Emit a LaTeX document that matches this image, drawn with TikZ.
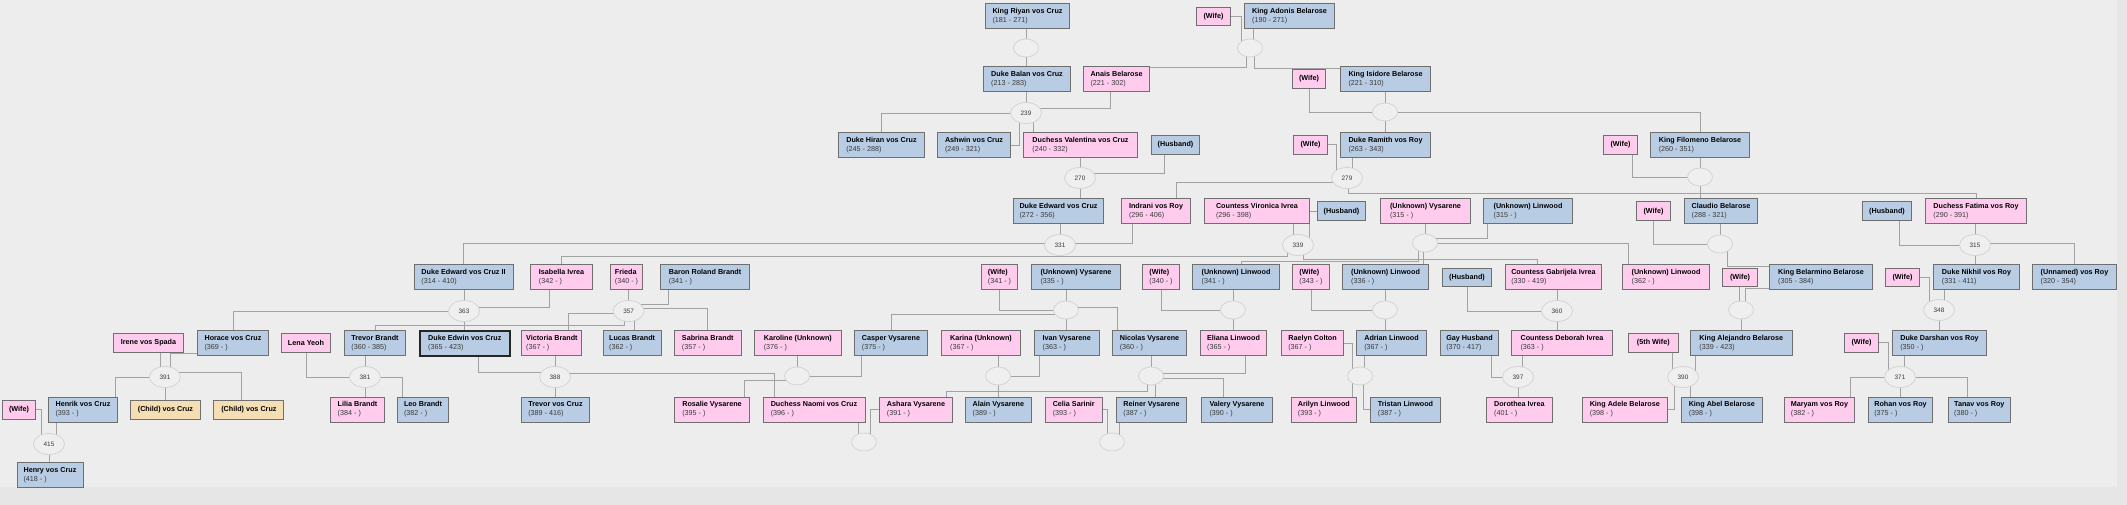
\documentclass[tikz,border=0pt]{standalone}
\usepackage{fontspec}
\setmainfont{Liberation Sans}
\usetikzlibrary{shapes.geometric,calc}
\definecolor{maleblue}{HTML}{B8CCE4}
\definecolor{femalepink}{HTML}{FFCCEE}
\definecolor{childtan}{HTML}{F5DEB3}
\definecolor{boxedge}{HTML}{6F6F6F}
\definecolor{linkgray}{HTML}{A2A2A2}
\definecolor{ringgray}{HTML}{D4D4D4}
\definecolor{ringfill}{HTML}{EFEFEF}
\definecolor{canvasbg}{HTML}{EDEDED}
\definecolor{outerbg}{HTML}{E6E6E6}
\definecolor{dategray}{HTML}{3A3A3A}
\pgfdeclarelayer{background}
\pgfsetlayers{background,main}
\newcommand{\who}[2]{\textbf{#1}\\{\color{dategray}#2}}

\begin{document}
\begin{tikzpicture}[x=1pt, y=-1pt,
    person/.style={draw=boxedge, line width=1pt, anchor=north west, align=left,
      inner xsep=3.5pt, inner ysep=1pt, minimum height=25pt,
      font=\fontsize{7.2}{9}\selectfont},
    male/.style={person, fill=maleblue},
    female/.style={person, fill=femalepink},
    unknown/.style={person, fill=childtan},
    oneline/.style={minimum height=18.6pt},
    focus/.style={draw=black!85, line width=2.2pt},
    union/.style={ellipse, draw=ringgray, fill=ringfill, line width=0.8pt, inner sep=0pt,
      minimum width=25pt, minimum height=18pt, font=\fontsize{6.4}{7}\selectfont, text=dategray},
    dated/.style={union, minimum width=31pt, minimum height=21pt},
    link/.style={draw=linkgray, line width=0.9pt}]
  \useasboundingbox (0,0) rectangle (2127,505);

  % Generation 1
  \node[male, minimum width=84] (riyan) at (985,3) {\who{King Riyan vos Cruz}{(181 - 271)}};
  \node[female, oneline, minimum width=34] (adonisW) at (1196,6.7) {\textbf{(Wife)}};
  \node[male, minimum width=90] (adonis) at (1244,3) {\who{King Adonis Belarose}{(190 - 271)}};
  \node[union] (cR) at (1026,48) {};
  \node[union] (cA) at (1250,48) {};

  % Generation 2
  \node[male, minimum width=87] (balan) at (983,66) {\who{Duke Balan vos Cruz}{(213 - 283)}};
  \node[female, minimum width=66] (anais) at (1083,66) {\who{Anais Belarose}{(221 - 302)}};
  \node[female, oneline, minimum width=33] (isidoreW) at (1292,69) {\textbf{(Wife)}};
  \node[male, minimum width=90] (isidore) at (1340,66) {\who{King Isidore Belarose}{(221 - 310)}};
  \node[dated] (c239) at (1026,113) {239};
  \node[union] (cI) at (1385,112) {};

  % Generation 3
  \node[male, minimum width=86] (hiran) at (838,132) {\who{Duke Hiran vos Cruz}{(245 - 288)}};
  \node[male, minimum width=73] (ashwin) at (937,132) {\who{Ashwin vos Cruz}{(249 - 321)}};
  \node[female, minimum width=114] (valentina) at (1023,132) {\who{Duchess Valentina vos Cruz}{(240 - 332)}};
  \node[male, oneline, minimum width=48] (husband1) at (1151,135) {\textbf{(Husband)}};
  \node[female, oneline, minimum width=34] (ramithW) at (1293,135) {\textbf{(Wife)}};
  \node[male, minimum width=90] (ramith) at (1340,132) {\who{Duke Ramith vos Roy}{(263 - 343)}};
  \node[female, oneline, minimum width=34] (filomenoW) at (1603,135) {\textbf{(Wife)}};
  \node[male, minimum width=99] (filomeno) at (1650,132) {\who{King Filomeno Belarose}{(260 - 351)}};
  \node[dated] (c270) at (1080,178) {270};
  \node[dated] (c279) at (1347,178) {279};
  \node[union] (cF) at (1700,177) {};

  % Generation 4
  \node[male, minimum width=90] (edward) at (1013,198) {\who{Duke Edward vos Cruz}{(272 - 356)}};
  \node[female, minimum width=69] (indrani) at (1121,198) {\who{Indrani vos Roy}{(296 - 406)}};
  \node[female, minimum width=105] (vironica) at (1204,198) {\who{Countess Vironica Ivrea}{(296 - 398)}};
  \node[male, oneline, minimum width=48] (husband2) at (1317,201.5) {\textbf{(Husband)}};
  \node[female, minimum width=90] (vysarene1) at (1380,198) {\who{(Unknown) Vysarene}{(315 - )}};
  \node[male, minimum width=89] (linwood1) at (1483,198) {\who{(Unknown) Linwood}{(315 - )}};
  \node[female, oneline, minimum width=34] (claudioW) at (1636,201.5) {\textbf{(Wife)}};
  \node[male, minimum width=73] (claudio) at (1684,198) {\who{Claudio Belarose}{(288 - 321)}};
  \node[male, oneline, minimum width=49] (husband3) at (1862,201.5) {\textbf{(Husband)}};
  \node[female, minimum width=101] (fatima) at (1925,198) {\who{Duchess Fatima vos Roy}{(290 - 391)}};
  \node[dated] (c331) at (1060,245) {331};
  \node[dated] (c339) at (1298,245) {339};
  \node[union] (cUV) at (1425,243) {};
  \node[union] (cC) at (1720,244) {};
  \node[dated] (c315) at (1975,245) {315};

  % Generation 5
  \node[male, minimum width=99] (edward2) at (413.5,264) {\who{Duke Edward vos Cruz II}{(314 - 410)}};
  \node[female, minimum width=62] (isabella) at (530,264) {\who{Isabella Ivrea}{(342 - )}};
  \node[female, minimum width=32] (frieda) at (610,264) {\who{Frieda}{(340 - )}};
  \node[male, minimum width=89] (roland) at (660,264) {\who{Baron Roland Brandt}{(341 - )}};
  \node[female, minimum width=36] (vysW) at (981,264) {\who{(Wife)}{(341 - )}};
  \node[male, minimum width=89] (vysarene2) at (1031,264) {\who{(Unknown) Vysarene}{(335 - )}};
  \node[female, minimum width=37] (linW1) at (1142,264) {\who{(Wife)}{(340 - )}};
  \node[male, minimum width=87] (linwood2) at (1192,264) {\who{(Unknown) Linwood}{(341 - )}};
  \node[female, minimum width=37] (linW2) at (1292,264) {\who{(Wife)}{(343 - )}};
  \node[male, minimum width=86] (linwood3) at (1342,264) {\who{(Unknown) Linwood}{(336 - )}};
  \node[male, oneline, minimum width=49] (husband4) at (1442,267.5) {\textbf{(Husband)}};
  \node[female, minimum width=96] (gabrijela) at (1505,264) {\who{Countess Gabrijela Ivrea}{(330 - 419)}};
  \node[female, minimum width=87] (linwood4) at (1622,264) {\who{(Unknown) Linwood}{(362 - )}};
  \node[female, oneline, minimum width=35] (belW) at (1722,267.5) {\textbf{(Wife)}};
  \node[male, minimum width=103] (belarmino) at (1769,264) {\who{King Belarmino Belarose}{(305 - 384)}};
  \node[female, oneline, minimum width=34] (nikW) at (1885,267.5) {\textbf{(Wife)}};
  \node[male, minimum width=86] (nikhil) at (1933,264) {\who{Duke Nikhil vos Roy}{(331 - 411)}};
  \node[male, minimum width=84] (unnamed) at (2032,264) {\who{(Unnamed) vos Roy}{(320 - 354)}};
  \node[dated] (c363) at (464,311) {363};
  \node[dated] (c357) at (628.6,311) {357};
  \node[union] (cWUV) at (1066,310) {};
  \node[union] (cWL1) at (1233,310) {};
  \node[union] (cWL2) at (1385,310) {};
  \node[dated] (c360) at (1557,311) {360};
  \node[union] (cB) at (1741,310) {};
  \node[dated] (c348) at (1939,310) {348};

  % Generation 6
  \node[female, oneline, minimum width=70] (irene) at (113,333) {\textbf{Irene vos Spada}};
  \node[male, minimum width=71] (horace) at (197,330) {\who{Horace vos Cruz}{(369 - )}};
  \node[female, oneline, minimum width=49] (lena) at (281,333) {\textbf{Lena Yeoh}};
  \node[male, minimum width=61] (trevorB) at (344,330) {\who{Trevor Brandt}{(360 - 385)}};
  \node[male, focus, minimum width=90] (edwin) at (418.7,330) {\who{Duke Edwin vos Cruz}{(365 - 423)}};
  \node[female, minimum width=60] (victoria) at (521.4,330) {\who{Victoria Brandt}{(367 - )}};
  \node[male, minimum width=58] (lucas) at (602.6,330) {\who{Lucas Brandt}{(362 - )}};
  \node[female, minimum width=66.5] (sabrina) at (674,330) {\who{Sabrina Brandt}{(357 - )}};
  \node[female, minimum width=86.6] (karoline) at (754,330) {\who{Karoline (Unknown)}{(376 - )}};
  \node[male, minimum width=73] (casper) at (854,330) {\who{Casper Vysarene}{(375 - )}};
  \node[female, minimum width=79] (karina) at (941,330) {\who{Karina (Unknown)}{(367 - )}};
  \node[male, minimum width=64.6] (ivan) at (1034,330) {\who{Ivan Vysarene}{(363 - )}};
  \node[male, minimum width=74] (nicolas) at (1112,330) {\who{Nicolas Vysarene}{(360 - )}};
  \node[female, minimum width=66] (eliana) at (1200,330) {\who{Eliana Linwood}{(365 - )}};
  \node[female, minimum width=62] (raelyn) at (1281,330) {\who{Raelyn Colton}{(367 - )}};
  \node[male, minimum width=70] (adrian) at (1356,330) {\who{Adrian Linwood}{(367 - )}};
  \node[male, minimum width=58] (gay) at (1440,330) {\who{Gay Husband}{(370 - 417)}};
  \node[female, minimum width=101] (deborah) at (1511,330) {\who{Countess Deborah Ivrea}{(363 - )}};
  \node[female, oneline, minimum width=49.6] (alejW) at (1628,333) {\textbf{(5th Wife)}};
  \node[male, minimum width=101.5] (alejandro) at (1690,330) {\who{King Alejandro Belarose}{(339 - 423)}};
  \node[female, oneline, minimum width=34] (darW) at (1844,333) {\textbf{(Wife)}};
  \node[male, minimum width=94] (darshan) at (1892,330) {\who{Duke Darshan vos Roy}{(350 - )}};
  \node[dated] (c391) at (165,377) {391};
  \node[dated] (c381) at (365,377) {381};
  \node[dated] (c388) at (555,377) {388};
  \node[union] (cKC) at (797,376) {};
  \node[union] (cKI) at (998,376) {};
  \node[union] (cNE) at (1151,376) {};
  \node[union] (cRA) at (1360,376) {};
  \node[dated] (c397) at (1518,377) {397};
  \node[dated] (c390) at (1683,377) {390};
  \node[dated] (c371) at (1900,377) {371};

  % Generation 7
  \node[female, oneline, minimum width=33] (henW) at (2,400) {\textbf{(Wife)}};
  \node[male, minimum width=69] (henrik) at (48,396.5) {\who{Henrik vos Cruz}{(393 - )}};
  \node[unknown, oneline, minimum width=70] (child1) at (130,400) {\textbf{(Child) vos Cruz}};
  \node[unknown, oneline, minimum width=70] (child2) at (213.4,400) {\textbf{(Child) vos Cruz}};
  \node[female, minimum width=54] (lilia) at (330,396.5) {\who{Lilia Brandt}{(384 - )}};
  \node[male, minimum width=51] (leo) at (397,396.5) {\who{Leo Brandt}{(382 - )}};
  \node[male, minimum width=68] (trevorC) at (521,396.5) {\who{Trevor vos Cruz}{(389 - 416)}};
  \node[female, minimum width=75] (rosalie) at (674,396.5) {\who{Rosalie Vysarene}{(395 - )}};
  \node[female, minimum width=102] (naomi) at (762.5,396.5) {\who{Duchess Naomi vos Cruz}{(396 - )}};
  \node[female, minimum width=73] (ashara) at (879,396.5) {\who{Ashara Vysarene}{(391 - )}};
  \node[male, minimum width=66.5] (alain) at (964.6,396.5) {\who{Alain Vysarene}{(389 - )}};
  \node[female, minimum width=56.5] (celia) at (1045,396.5) {\who{Celia Sarinir}{(393 - )}};
  \node[male, minimum width=70] (reiner) at (1116,396.5) {\who{Reiner Vysarene}{(387 - )}};
  \node[male, minimum width=71] (valery) at (1201,396.5) {\who{Valery Vysarene}{(390 - )}};
  \node[female, minimum width=65.5] (arilyn) at (1290.6,396.5) {\who{Arilyn Linwood}{(393 - )}};
  \node[male, minimum width=70] (tristan) at (1370,396.5) {\who{Tristan Linwood}{(387 - )}};
  \node[female, minimum width=66.5] (dorothea) at (1485.6,396.5) {\who{Dorothea Ivrea}{(401 - )}};
  \node[female, minimum width=84.5] (adele) at (1582,396.5) {\who{King Adele Belarose}{(398 - )}};
  \node[male, minimum width=80.5] (abel) at (1681,396.5) {\who{King Abel Belarose}{(398 - )}};
  \node[female, minimum width=70] (maryam) at (1784,396.5) {\who{Maryam vos Roy}{(382 - )}};
  \node[male, minimum width=64] (rohan) at (1868,396.5) {\who{Rohan vos Roy}{(375 - )}};
  \node[male, minimum width=62.4] (tanav) at (1947.6,396.5) {\who{Tanav vos Roy}{(380 - )}};
  \node[dated] (c415) at (49,444) {415};
  \node[union] (cNA) at (864,442) {};
  \node[union] (cCR) at (1112,442) {};

  % Generation 8
  \node[male, minimum width=66] (henry) at (16.5,462) {\who{Henry vos Cruz}{(418 - )}};

  \begin{pgfonlayer}{background}
    % Canvas
    \fill[outerbg] (0,0) rectangle (2127,505);
    \fill[canvasbg] (0,0) rectangle (2117,487);

    % Generation 1 to 2
    \draw[link] (cR.center) |- (riyan.center);
    \draw[link] (adonisW.east) -| ([xshift=-9pt]cA.center);
    \draw[link] ([xshift=3pt]cA.center) |- (adonis.center);
    \draw[link] (cR.center) |- (balan.center);
    \draw[link] ([xshift=-4pt]cA.center) |- ($(anais.north)+(0,1.5)$);
    \draw[link] ([xshift=4pt]cA.center) |- ($(isidore.north)+(0,2.5)$);

    % Generation 2 to 3
    \draw[link] (c239.center) |- (balan.center);
    \draw[link] ([xshift=-6pt]anais.center) |- ([yshift=5pt]c239.center);
    \draw[link] (isidoreW.center) |- (cI.center);
    \draw[link] (cI.center) |- (isidore.center);
    \draw[link] (c239.center) -| (hiran.center);
    \draw[link] ([xshift=-7pt]c239.center) |- (ashwin.center);
    \draw[link] ([xshift=7pt]c239.center) |- (valentina.center);
    \draw[link] (cI.center) |- (ramith.center);
    \draw[link] (cI.center) -| (filomeno.center);

    % Generation 3 to 4
    \draw[link] (c270.center) |- (valentina.center);
    \draw[link] ([xshift=-11pt]husband1.center) |- ([yshift=5pt]c270.center);
    \draw[link] (ramithW.east) -| ([xshift=-11pt]c279.center);
    \draw[link] ([xshift=5pt]c279.center) |- (ramith.center);
    \draw[link] ([xshift=12pt]filomenoW.center) |- (cF.center);
    \draw[link] (cF.center) |- (filomeno.center);
    \draw[link] (c270.center) |- (edward.center);
    \draw[link] ([yshift=-4pt]c279.center) -| ([xshift=20pt]indrani.center);
    \draw[link] ([xshift=1pt]c279.center) |- ($(fatima.north)+(0,-5)$) -- (fatima.center);
    \draw[link] (cF.center) |- (claudio.center);

    % Generation 4 to 5
    \draw[link] (c331.center) |- (edward.center);
    \draw[link] ([xshift=-24pt]indrani.center) |- ([yshift=2pt]c331.center);
    \draw[link] ([xshift=-5pt]c339.center) |- (vironica.center);
    \draw[link] (husband2.west) -| ([xshift=11pt]c339.center);
    \draw[link] (cUV.center) |- (vysarene1.center);
    \draw[link] ([xshift=-41pt]linwood1.center) |- ([yshift=5pt]cUV.center);
    \draw[link] (claudioW.center) |- (cC.center);
    \draw[link] (cC.center) |- (claudio.center);
    \draw[link] ([xshift=12pt]husband3.center) |- (c315.center);
    \draw[link] (c315.center) |- (fatima.center);
    \draw[link] ([yshift=2pt]c331.center) -| (edward2.center);
    \draw[link] ([xshift=-11pt]c339.center) |- ($(isabella.north)+(0,-8)$) -- (isabella.center);
    \draw[link] ([xshift=-7pt]cUV.center) |- ($(linwood2.north)+(5,-2.3)$) -- ($(linwood2.north)+(5,3)$);
    \draw[link] ([xshift=5pt]c339.center) |- ($(gabrijela.north)+(-16,-5)$) -- ($(gabrijela.north)+(-16,3)$);
    \draw[link] ([xshift=-2pt]cUV.center) |- (linwood3.center);
    \draw[link] (cUV.center) -| ([xshift=-38pt]linwood4.center);
    \draw[link] ([xshift=7pt]cC.center) |- ($(belarmino.north west)+(0,2)$);
    \draw[link] (c315.center) |- (nikhil.center);
    \draw[link] ([yshift=2pt]c315.center) -| (unnamed.center);

    % Generation 5 to 6
    \draw[link] (c363.center) |- (edward2.center);
    \draw[link] ([xshift=-12pt]isabella.center) |- ([yshift=4pt]c363.center);
    \draw[link] (c357.center) |- (frieda.center);
    \draw[link] ([xshift=-37pt]roland.center) |- ([yshift=7pt]c357.center);
    \draw[link] (vysW.center) |- (cWUV.center);
    \draw[link] (cWUV.center) |- (vysarene2.center);
    \draw[link] (linW1.center) |- (cWL1.center);
    \draw[link] (cWL1.center) |- (linwood2.center);
    \draw[link] (linW2.center) |- (cWL2.center);
    \draw[link] (cWL2.center) |- (linwood3.center);
    \draw[link] (husband4.center) |- (c360.center);
    \draw[link] (c360.center) |- (gabrijela.center);
    \draw[link] ([xshift=-2pt]cB.center) |- (belW.center);
    \draw[link] ([yshift=-11pt]belarmino.west) -| ([xshift=4pt]cB.center);
    \draw[link] (nikW.east) -| ([xshift=-10pt]c348.center);
    \draw[link] ([xshift=5pt]c348.center) |- (nikhil.center);
    \draw[link] (c363.center) -| (horace.center);
    \draw[link] (c363.center) |- (edwin.center);
    \draw[link] ([xshift=-4pt]c357.center) |- ($(trevorB.north)+(0,-5)$) -- (trevorB.center);
    \draw[link] ([yshift=-2pt]c357.center) -| ([xshift=17pt]victoria.center);
    \draw[link] ([xshift=6pt]c357.center) |- (lucas.center);
    \draw[link] ([yshift=3pt]c357.center) -| (sabrina.center);
    \draw[link] ([yshift=-4pt]cWUV.center) -| (casper.center);
    \draw[link] (cWUV.center) |- (ivan.center);
    \draw[link] ([yshift=3pt]cWUV.center) -| ([xshift=-32pt]nicolas.center);
    \draw[link] (cWL1.center) |- (eliana.center);
    \draw[link] (cWL2.center) |- (adrian.center);
    \draw[link] (c360.center) |- (deborah.center);
    \draw[link] (cB.center) |- (alejandro.center);
    \draw[link] (c348.center) |- (darshan.center);

    % Generation 6 to 7
    \draw[link] ([xshift=-5pt]c391.center) |- (irene.center);
    \draw[link] ([yshift=-10pt]horace.west) -| ([xshift=5pt]c391.center);
    \draw[link] (lena.center) |- (c381.center);
    \draw[link] (c381.center) |- (trevorB.center);
    \draw[link] ([xshift=14pt]edwin.center) |- ([yshift=5pt]c388.center);
    \draw[link] (c388.center) |- (victoria.center);
    \draw[link] (cKC.center) |- (karoline.center);
    \draw[link] ([xshift=-30pt]casper.center) |- (cKC.center);
    \draw[link] (cKI.center) |- (karina.center);
    \draw[link] ([xshift=-27pt]ivan.center) |- (cKI.center);
    \draw[link] (cNE.center) |- (nicolas.center);
    \draw[link] ([xshift=12pt]eliana.center) |- ([yshift=3pt]cNE.center);
    \draw[link] (raelyn.east) -| ([xshift=-8pt]cRA.center);
    \draw[link] ([xshift=4pt]cRA.center) |- (adrian.center);
    \draw[link] ([xshift=22pt]gay.center) |- (c397.center);
    \draw[link] ([xshift=4pt]c397.center) |- (deborah.center);
    \draw[link] ([xshift=-11pt]c390.center) |- (alejW.center);
    \draw[link] ([xshift=12pt]c390.center) |- (alejandro.center);
    \draw[link] (darW.east) -| ([xshift=-12pt]c371.center);
    \draw[link] ([xshift=4pt]c371.center) |- (darshan.center);
    \draw[link] (c391.center) -| ([xshift=32pt]henrik.center);
    \draw[link] (c391.center) |- (child1.center);
    \draw[link] ([yshift=5pt]c391.center) -| ([xshift=-7pt]child2.center);
    \draw[link] (c381.center) |- (lilia.center);
    \draw[link] (c381.center) -| ([xshift=-21pt]leo.center);
    \draw[link] (c388.center) |- (trevorC.center);
    \draw[link] ([yshift=4pt]c388.center) -| ([xshift=-40pt]naomi.center);
    \draw[link] ([yshift=-4pt]cKC.center) -| ([xshift=32pt]rosalie.center);
    \draw[link] (cKI.center) |- (alain.center);
    \draw[link] ([xshift=-4pt]cNE.center) |- ($(ashara.north)+(30,-5.5)$) -- ($(ashara.north)+(30,3)$);
    \draw[link] ([xshift=4pt]cNE.center) |- (reiner.center);
    \draw[link] ([yshift=-2pt]cNE.center) -| ([xshift=-14pt]valery.center);
    \draw[link] ([xshift=-8pt]cRA.center) |- (arilyn.center);
    \draw[link] ([xshift=3pt]cRA.center) |- (tristan.west);
    \draw[link] (c397.center) |- (dorothea.center);
    \draw[link] ([xshift=-9pt]c390.center) |- (adele.east);
    \draw[link] ([xshift=7pt]c390.center) |- (abel.center);
    \draw[link] (c371.center) -| ([xshift=31pt]maryam.center);
    \draw[link] (c371.center) |- (rohan.center);
    \draw[link] (c371.center) -| ([xshift=-12pt]tanav.center);

    % Generation 7 to 8
    \draw[link] (henW.east) -| ([xshift=-8pt]c415.center);
    \draw[link] ([xshift=7pt]c415.center) |- (henrik.center);
    \draw[link] (c415.center) |- (henry.center);
    \draw[link] ([xshift=-6pt]cNA.center) |- (naomi.center);
    \draw[link] (ashara.west) -| ([xshift=6pt]cNA.center);
    \draw[link] (celia.east) -| ([xshift=-5pt]cCR.center);
    \draw[link] ([xshift=7pt]cCR.center) |- (reiner.center);
  \end{pgfonlayer}
\end{tikzpicture}
\end{document}
